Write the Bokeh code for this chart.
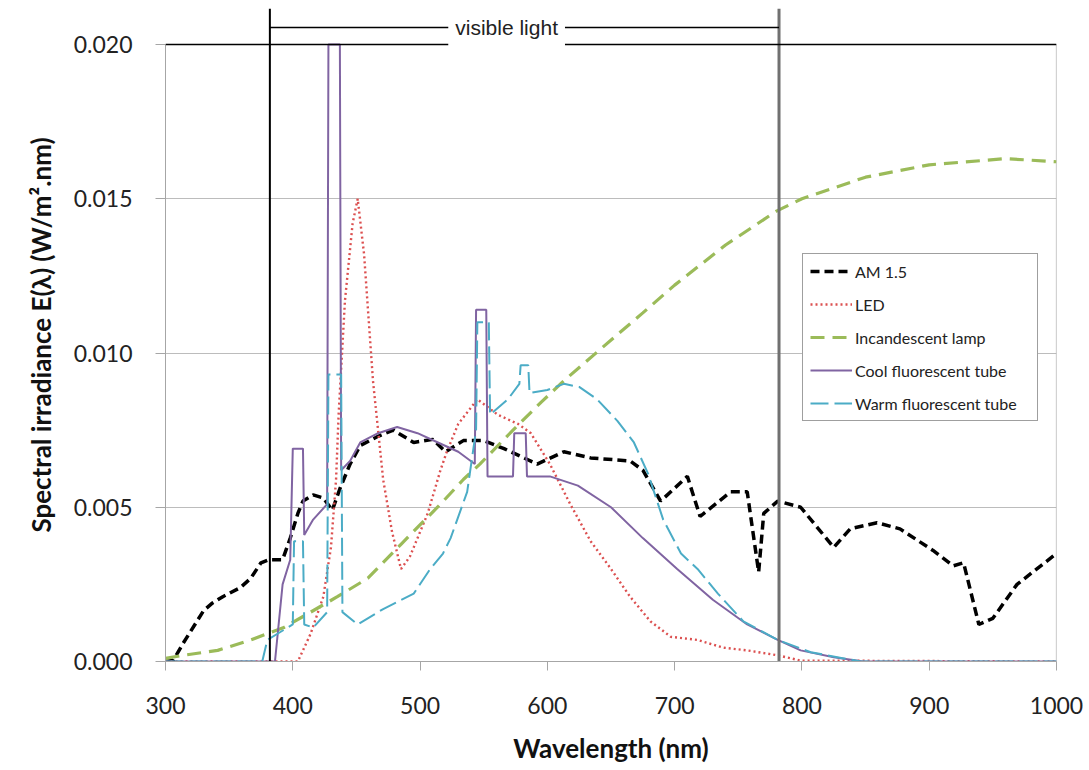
from bokeh.plotting import figure
from bokeh.models import Range1d, FixedTicker, PrintfTickFormatter, Span, Label, Legend, LegendItem
from bokeh.embed import file_html
from bokeh.resources import INLINE

# ---------------- data ----------------
x_ticks = [300, 400, 500, 600, 700, 800, 900, 1000]
y_ticks = [0.0, 0.005, 0.010, 0.015, 0.020]
visible_bounds = [382, 782]
visible_text = "visible light"

series_names = ["AM 1.5", "LED", "Incandescent lamp", "Cool fluorescent tube", "Warm fluorescent tube"]

am_wl = [300, 306, 314, 330, 337, 345, 359, 367, 375, 381, 392, 398, 404, 408, 416, 424, 431,
         437, 445, 453, 467, 479, 495, 510, 520, 534, 550, 566, 592, 613, 634, 665, 675, 689,
         710, 720, 744, 757, 766, 770, 781, 799, 825, 838, 859, 877, 903, 919, 927, 939, 950,
         969, 1000]
am_val = [0.0, 0.00003, 0.0006, 0.00165, 0.0019, 0.0021, 0.0024, 0.0027, 0.0032, 0.0033, 0.0033,
          0.0040, 0.0048, 0.0052, 0.0054, 0.0053, 0.0049, 0.0056, 0.0064, 0.0070, 0.0073, 0.0075,
          0.0071, 0.0072, 0.0068, 0.00716, 0.00716, 0.0069, 0.0064, 0.0068, 0.0066, 0.0065, 0.0062,
          0.0052, 0.0060, 0.0047, 0.0055, 0.0055, 0.0029, 0.0048, 0.0052, 0.0050, 0.0037, 0.0043,
          0.0045, 0.0043, 0.0036, 0.0031, 0.0032, 0.0012, 0.0014, 0.0025, 0.0035]

led_wl = [300, 404, 414, 424, 430, 434, 436, 441, 447, 451, 456, 463, 471, 478, 485, 492, 506,
          516, 521, 530, 545, 561, 577, 587, 602, 618, 634, 650, 665, 681, 697, 718, 738, 757,
          781, 799, 1000]
led_val = [0.0, 0.0, 0.0009, 0.0021, 0.0037, 0.0059, 0.0080, 0.0117, 0.0142, 0.0150, 0.0132,
           0.0091, 0.0059, 0.0042, 0.0030, 0.0034, 0.0048, 0.0062, 0.0068, 0.0077, 0.0085, 0.0080,
           0.0077, 0.0074, 0.0064, 0.0051, 0.0039, 0.0030, 0.0021, 0.0013, 0.0008, 0.0007,
           0.00045, 0.00036, 0.0002, 0.00003, 0.0]

inc_wl = [300, 314, 341, 367, 393, 414, 435, 459, 485, 516, 534, 547, 573, 595, 613, 641, 675,
          700, 740, 780, 800, 850, 900, 960, 1000]
inc_val = [0.0001, 0.0002, 0.00036, 0.0007, 0.0011, 0.0016, 0.0021, 0.0027, 0.0038, 0.0051,
           0.0059, 0.0064, 0.0075, 0.0084, 0.0091, 0.0101, 0.0113, 0.0122, 0.0135, 0.0146,
           0.0150, 0.0157, 0.0161, 0.0163, 0.0162]

cool_wl = [300, 386, 392, 398, 400, 408, 409, 416, 427, 428, 437, 438, 445, 453, 467, 482, 498,
           514, 530, 543, 544, 552, 553, 573, 574, 583, 584, 602, 624, 650, 675, 702, 730, 757,
           781, 799, 825, 848, 1000]
cool_val = [0.0, 0.0, 0.0025, 0.0033, 0.0069, 0.0069, 0.0041, 0.0046, 0.0051, 0.020, 0.020,
            0.0062, 0.0065, 0.0071, 0.0074, 0.0076, 0.0074, 0.0071, 0.0068, 0.0064, 0.0114,
            0.0114, 0.0060, 0.0060, 0.0074, 0.0074, 0.0060, 0.0060, 0.0057, 0.0050, 0.0040,
            0.0030, 0.0020, 0.0012, 0.0007, 0.00036, 0.00014, 0.0, 0.0]

warm_wl = [300, 376, 380, 388, 400, 401, 408, 409, 416, 427, 428, 438, 439, 451, 471, 495, 508,
           518, 524, 537, 544, 545, 554, 555, 569, 578, 579, 585, 586, 600, 613, 625, 639, 655,
           668, 679, 691, 705, 718, 734, 754, 781, 807, 833, 846, 1000]
warm_val = [0.0, 0.0, 0.0007, 0.0009, 0.0012, 0.0039, 0.0039, 0.0012, 0.0011, 0.0016, 0.0093,
            0.0093, 0.0016, 0.0012, 0.0017, 0.0022, 0.0030, 0.0035, 0.0040, 0.0055, 0.0075,
            0.0110, 0.0110, 0.0080, 0.0085, 0.0090, 0.0096, 0.0096, 0.0087, 0.0088, 0.0090,
            0.0089, 0.0085, 0.0078, 0.0071, 0.0061, 0.0046, 0.0035, 0.0030, 0.0022, 0.0013,
            0.0007, 0.0003, 0.0001, 0.0, 0.0]

# ---------------- figure ----------------
y_top = 0.021167   # room above 0.020 for the "visible light" bracket
bracket_y = 0.02055

p = figure(width=1086, height=770, output_backend="svg", toolbar_location=None,
           x_range=Range1d(x_ticks[0], x_ticks[-1]), y_range=Range1d(0, y_top),
           min_border_left=165, min_border_right=30, min_border_top=8, min_border_bottom=109)
p.outline_line_color = None
p.background_fill_color = "white"
p.border_fill_color = "white"

p.xgrid.visible = False
p.ygrid.ticker = FixedTicker(ticks=y_ticks)
p.ygrid.grid_line_color = "#bcbcbc"
p.ygrid.grid_line_width = 1

# x axis
xa = p.xaxis[0]
xa.ticker = FixedTicker(ticks=x_ticks)
xa.axis_line_color = "#a6a6a6"
xa.major_tick_line_color = "#a6a6a6"
xa.major_tick_out = 9
xa.major_tick_in = 0
xa.minor_tick_out = 0
xa.minor_tick_in = 0
xa.major_label_text_font = "Lato"
xa.major_label_text_font_size = "23px"
xa.major_label_text_color = "#222222"
xa.major_label_standoff = 26
xa.axis_label = "Wavelength (nm)"
xa.axis_label_text_font = "Lato"
xa.axis_label_text_font_style = "bold"
xa.axis_label_text_font_size = "26px"
xa.axis_label_text_color = "#111111"
xa.axis_label_standoff = 15

# y axis
ya = p.yaxis[0]
ya.bounds = (y_ticks[0], y_ticks[-1])
ya.ticker = FixedTicker(ticks=y_ticks)
ya.formatter = PrintfTickFormatter(format="%.3f")
ya.axis_line_color = "#a6a6a6"
ya.major_tick_line_color = "#a6a6a6"
ya.major_tick_out = 10
ya.major_tick_in = 0
ya.minor_tick_out = 0
ya.minor_tick_in = 0
ya.major_label_text_font = "Lato"
ya.major_label_text_font_size = "23px"
ya.major_label_text_color = "#222222"
ya.major_label_standoff = 23
ya.axis_label = "Spectral irradiance E(λ) (W/m².nm)"
ya.axis_label_text_font = "Lato"
ya.axis_label_text_font_style = "bold"
ya.axis_label_text_font_size = "26px"
ya.axis_label_text_color = "#111111"
ya.axis_label_standoff = 14

# frame lines
p.add_layout(Span(location=y_ticks[-1], dimension="width", line_color="black", line_width=1.6))
p.segment(x0=[x_ticks[-1]], y0=[y_ticks[0]], x1=[x_ticks[-1]], y1=[y_ticks[-1]],
          line_color="#a6a6a6", line_width=1.2)

# series
r_am = p.line(am_wl, am_val, line_color="black", line_width=3.5, line_dash="9 5")
r_led = p.line(led_wl, led_val, line_color="#dc5050", line_width=2.4, line_dash="2 3")
r_inc = p.line(inc_wl, inc_val, line_color="#9bbb59", line_width=3.2, line_dash="14 8")
r_cool = p.line(cool_wl, cool_val, line_color="#8064a2", line_width=2)
r_warm = p.line(warm_wl, warm_val, line_color="#4bacc6", line_width=2, line_dash="18 6")

# visible light bounds and bracket
p.segment(x0=[visible_bounds[0]], y0=[0], x1=[visible_bounds[0]], y1=[y_top],
          line_color="black", line_width=2)
p.segment(x0=[visible_bounds[1]], y0=[0], x1=[visible_bounds[1]], y1=[y_top],
          line_color="#707070", line_width=3)
p.segment(x0=[visible_bounds[0]], y0=[bracket_y], x1=[visible_bounds[1]], y1=[bracket_y],
          line_color="black", line_width=1.5)
p.add_layout(Label(x=568, y=bracket_y, text=visible_text, text_align="center",
                   text_baseline="middle", text_font="Liberation Sans", text_font_size="21px",
                   text_color="#222222", background_fill_color="white", padding=7))

legend = Legend(items=[LegendItem(label=series_names[0], renderers=[r_am]),
                       LegendItem(label=series_names[1], renderers=[r_led]),
                       LegendItem(label=series_names[2], renderers=[r_inc]),
                       LegendItem(label=series_names[3], renderers=[r_cool]),
                       LegendItem(label=series_names[4], renderers=[r_warm])],
                location=(637, 240))
legend.glyph_width = 42
legend.glyph_height = 20
legend.label_height = 20
legend.label_width = 175
legend.spacing = 13
legend.padding = 7
legend.margin = 0
legend.label_standoff = 3
legend.label_text_font = "Lato"
legend.label_text_font_size = "16px"
legend.label_text_color = "#222222"
legend.border_line_color = "#404040"
legend.border_line_width = 1.5
legend.background_fill_color = "white"
legend.background_fill_alpha = 1.0
p.add_layout(legend)

open("out.html", "w").write(file_html(p, INLINE))
